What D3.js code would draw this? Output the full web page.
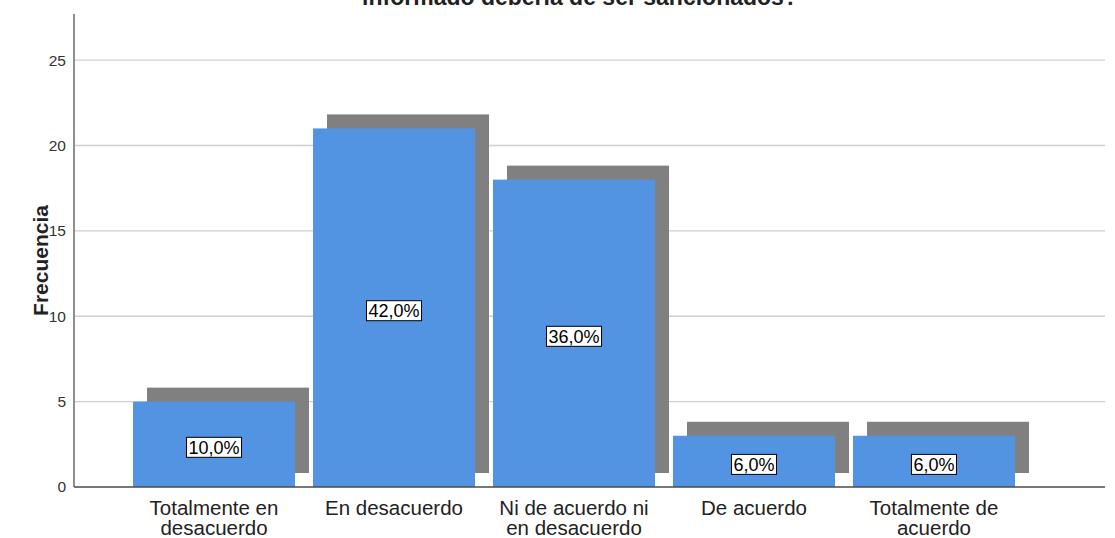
<!DOCTYPE html>
<html>
<head>
<meta charset="utf-8">
<script src="https://cdn.jsdelivr.net/npm/d3@7"></script>
<style>
  html, body { margin: 0; padding: 0; background: #fff; }
  svg { display: block; font-family: "Liberation Sans", Arial, sans-serif; }
</style>
</head>
<body>
<svg id="chart" width="1115" height="538"></svg>
<script>
// Answer categories (each may wrap over two lines)
const categories = [
  ["Totalmente en", "desacuerdo"],
  ["En desacuerdo"],
  ["Ni de acuerdo ni", "en desacuerdo"],
  ["De acuerdo"],
  ["Totalmente de", "acuerdo"]
];
const frequencies = [5, 21, 18, 3, 3];
const percentLabels = ["10,0%", "42,0%", "36,0%", "6,0%", "6,0%"];
const yTicks = [0, 5, 10, 15, 20, 25];
const titleText = "informado debería de ser sancionados?";
const yAxisTitle = "Frecuencia";

const svg = d3.select("#chart");
const plotLeft = 74, plotRight = 1105, plotTop = 14, plotBottom = 487;
const shadowOffset = 14;

const keys = categories.map((c, i) => i);
const x = d3.scaleBand()
  .domain(keys)
  .range([plotLeft, plotRight])
  .paddingInner(0.1)
  .paddingOuter(0.414)
  .align(0.396);

const y = d3.scaleLinear()
  .domain([0, 27.7])
  .range([plotBottom, plotTop]);

// Title (its first line lies above the top edge of the page)
svg.append("text")
  .attr("x", 580)
  .attr("y", 5)
  .attr("text-anchor", "middle")
  .attr("font-weight", "bold")
  .attr("font-size", 23)
  .attr("fill", "#222")
  .text(titleText);

// Horizontal gridlines
svg.append("g")
  .selectAll("line")
  .data(yTicks.filter(t => t > 0))
  .join("line")
  .attr("x1", plotLeft).attr("x2", plotRight)
  .attr("y1", d => y(d)).attr("y2", d => y(d))
  .attr("stroke", "#cfcfcf")
  .attr("stroke-width", 1.3);

// Y axis
const yAxis = d3.axisLeft(y).tickValues(yTicks).tickSize(0).tickPadding(8);
const gy = svg.append("g").attr("transform", `translate(${plotLeft},0)`).call(yAxis);
gy.select(".domain").remove();
gy.selectAll("text")
  .attr("font-size", 15.5)
  .attr("fill", "#333")
  .attr("font-family", "Liberation Sans, Arial, sans-serif");

svg.append("line")
  .attr("x1", plotLeft).attr("x2", plotLeft)
  .attr("y1", plotTop).attr("y2", plotBottom)
  .attr("stroke", "#8f8f8f")
  .attr("stroke-width", 2);

// Y axis title
svg.append("text")
  .attr("transform", `translate(48,${(plotTop + plotBottom) / 2 + 10}) rotate(-90)`)
  .attr("text-anchor", "middle")
  .attr("font-weight", "bold")
  .attr("font-size", 21)
  .attr("fill", "#222")
  .text(yAxisTitle);

// Bar shadows
svg.append("g")
  .selectAll("rect")
  .data(frequencies)
  .join("rect")
  .attr("x", (d, i) => x(i) + shadowOffset)
  .attr("y", d => y(d) - shadowOffset)
  .attr("width", x.bandwidth())
  .attr("height", d => plotBottom - y(d))
  .attr("fill", "#808080");

// Bars
svg.append("g")
  .selectAll("rect")
  .data(frequencies)
  .join("rect")
  .attr("x", (d, i) => x(i))
  .attr("y", d => y(d))
  .attr("width", x.bandwidth())
  .attr("height", d => plotBottom - y(d))
  .attr("fill", "#5294e2");

// Baseline
svg.append("line")
  .attr("x1", plotLeft).attr("x2", plotRight)
  .attr("y1", plotBottom).attr("y2", plotBottom)
  .attr("stroke", "#4a4a4a")
  .attr("stroke-width", 1.5);

// Percentage labels in boxes
const lab = svg.append("g")
  .selectAll("g")
  .data(frequencies)
  .join("g")
  .attr("transform", (d, i) =>
    `translate(${x(i) + x.bandwidth() / 2},${(y(d) + plotBottom) / 2 + 3})`);

lab.append("text")
  .attr("text-anchor", "middle")
  .attr("dy", "0.35em")
  .attr("font-size", 18)
  .attr("fill", "#000")
  .text((d, i) => percentLabels[i])
  .each(function () {
    const b = this.getBBox();
    d3.select(this.parentNode).insert("rect", "text")
      .attr("x", b.x - 2)
      .attr("y", -10)
      .attr("width", b.width + 4)
      .attr("height", 20)
      .attr("fill", "#fff")
      .attr("stroke", "#000")
      .attr("stroke-width", 1);
  });

// Category labels
const cat = svg.append("g")
  .selectAll("text")
  .data(categories)
  .join("text")
  .attr("text-anchor", "middle")
  .attr("font-size", 20.5)
  .attr("fill", "#222")
  .attr("x", (d, i) => x(i) + x.bandwidth() / 2);

cat.selectAll("tspan")
  .data(d => d)
  .join("tspan")
  .attr("x", function () { return d3.select(this.parentNode).attr("x"); })
  .attr("y", (d, j) => 515 + j * 19.5)
  .text(d => d);
</script>
</body>
</html>
